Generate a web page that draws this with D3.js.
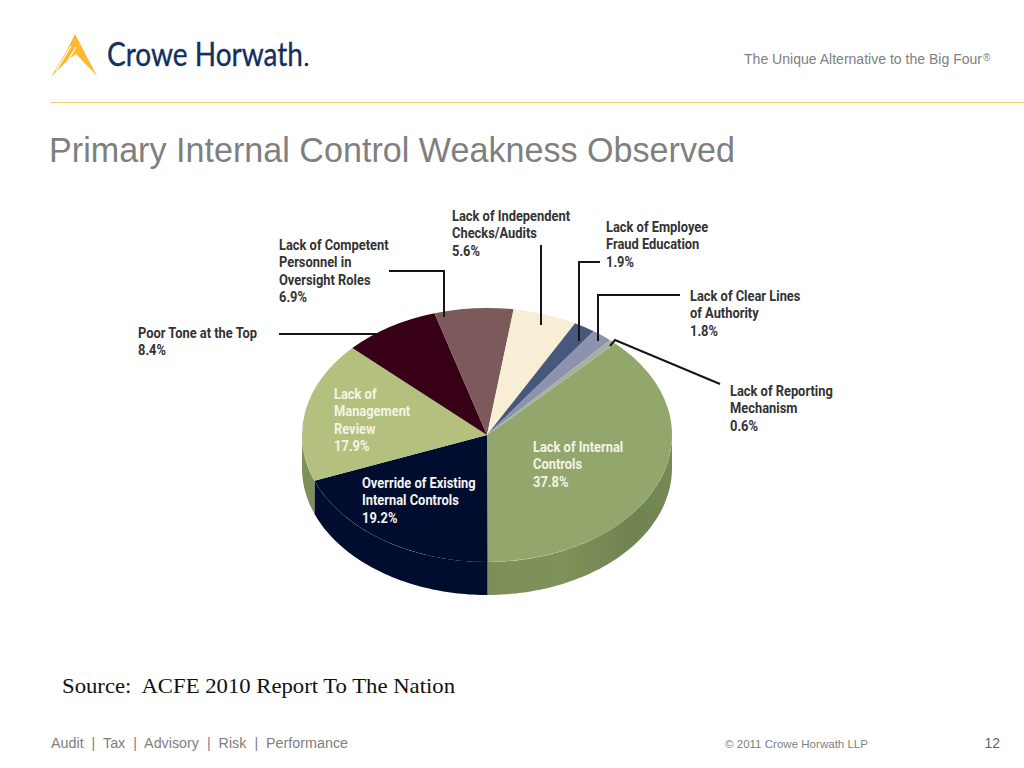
<!DOCTYPE html>
<html><head><meta charset="utf-8">
<script src="https://cdnjs.cloudflare.com/ajax/libs/d3/7.8.5/d3.min.js"></script>
<style>html,body{margin:0;padding:0;background:#fff}svg{display:block}</style>
</head><body><svg id="c" width="1024" height="768"></svg>
<script>
const categories = ["Lack of Internal Controls","Override of Existing Internal Controls","Lack of Management Review","Poor Tone at the Top","Lack of Competent Personnel in Oversight Roles","Lack of Independent Checks/Audits","Lack of Employee Fraud Education","Lack of Clear Lines of Authority","Lack of Reporting Mechanism"];
const values = [37.8,19.2,17.9,8.4,6.9,5.6,1.9,1.8,0.6];
const colors = ["#93a66c","#000c2e","#b4c07e","#370016","#7c5a5c","#f7eed5","#47587c","#8c93ad","#a8b09c"];
const wallColors = ["url(#wall)","#000c2e","#7f8f5a","#000","#000","#000","#000","#000","#000"];
const labelLines = [
 ["Lack of Internal","Controls","37.8%"],
 ["Override of Existing","Internal Controls","19.2%"],
 ["Lack of","Management","Review","17.9%"],
 ["Poor Tone at the Top","8.4%"],
 ["Lack of Competent","Personnel in","Oversight Roles","6.9%"],
 ["Lack of Independent","Checks/Audits","5.6%"],
 ["Lack of Employee","Fraud Education","1.9%"],
 ["Lack of Clear Lines","of Authority","1.8%"],
 ["Lack of Reporting","Mechanism","0.6%"]];
const labelPos = [[533,452],[362,488],[334,399],[138,338],[279,250],[452,221],[606,232],[690,301],[730,396]];
const labelFill = ["#f4f4e6","#f4f4f4","#f4f4e6","#333","#333","#333","#333","#333","#333"];
const leaders = [null,null,null,
 [[279,334],[378,334]],
 [[389,271],[444,271],[444,317]],
 [[541,245],[541,325]],
 [[600,262],[579,262],[579,341]],
 [[680,295],[598,295],[598,341]],
 [[720,384],[615,340],[610,346]]];

const svg = d3.select("#c");
const cx=487, cy=435, rx=185, ry=127, depth=33;
const defs = svg.append("defs");
const g = defs.append("linearGradient").attr("id","wall").attr("x1","0").attr("x2","1").attr("y1","0").attr("y2","0");
[[0,"#7c8f58"],[.4,"#7f9259"],[.8,"#6f8350"],[1,"#768a56"]].forEach(s=>g.append("stop").attr("offset",s[0]).attr("stop-color",s[1]));
const soft = defs.append("filter").attr("id","soft").attr("x","-5%").attr("y","-5%").attr("width","110%").attr("height","110%");
soft.append("feGaussianBlur").attr("stdDeviation",0.45);

// header
const sans = "'Liberation Sans',Arial,sans-serif";
svg.append("path").attr("fill","#fdb92e").attr("d","M75,34 L97,76 L76,54 L68,60 L51,77 L66,52 Z");
[[71,46,56,71],[76,47,63,69]].forEach(s=>svg.append("line").attr("x1",s[0]).attr("y1",s[1]).attr("x2",s[2]).attr("y2",s[3]).attr("stroke","#fff").attr("stroke-width",1.2));
svg.append("text").text("Crowe Horwath").attr("x",107).attr("y",66).attr("font-family","Lato,sans-serif").attr("font-size",33).attr("fill","#12305f").attr("stroke","#12305f").attr("stroke-width",0.35).attr("textLength",196).attr("lengthAdjust","spacingAndGlyphs");
svg.append("circle").attr("cx",306.5).attr("cy",64.5).attr("r",1.8).attr("fill","#12305f");
svg.append("text").text("The Unique Alternative to the Big Four").attr("x",744).attr("y",64).attr("font-family",sans).attr("font-size",14).attr("fill","#808080").attr("textLength",238).attr("lengthAdjust","spacingAndGlyphs");
svg.append("text").text("®").attr("x",983).attr("y",61).attr("font-family",sans).attr("font-size",10).attr("fill","#808080");
svg.append("line").attr("x1",51).attr("x2",1024).attr("y1",102.5).attr("y2",102.5).attr("stroke","#efcf6e").attr("stroke-width",1.2);
svg.append("text").text("Primary Internal Control Weakness Observed").attr("x",49).attr("y",162).attr("font-family",sans).attr("font-size",35).attr("fill","#7f7f7f").attr("textLength",686).attr("lengthAdjust","spacingAndGlyphs");

// pie
const a0 = 43.9*Math.PI/180;
const arcs = d3.pie().sort(null).startAngle(a0).endAngle(a0+2*Math.PI)(values);
const chart = svg.append("g").attr("filter","url(#soft)");
const px = d3.scaleLinear().domain([-1,1]).range([cx-rx,cx+rx]);
const py = d3.scaleLinear().domain([-1,1]).range([cy-ry,cy+ry]);
// side wall: front half only (angles measured clockwise from the top)
const front = [Math.PI/2, 3*Math.PI/2];
const wall = d3.area().x(a=>px(Math.sin(a))).y0(a=>py(-Math.cos(a))).y1(a=>py(-Math.cos(a))+depth);
arcs.forEach((d,i)=>{
  const s=Math.max(d.startAngle,front[0]), e=Math.min(d.endAngle,front[1]);
  if(e<=s) return;
  chart.append("path").attr("d",wall(d3.range(0,61).map(k=>s+(e-s)*k/60))).attr("fill",wallColors[i]);
});
const arc = d3.arc().innerRadius(0).outerRadius(1);
const face = chart.append("g").attr("transform",`translate(${cx},${cy}) scale(${rx},${ry})`);
face.selectAll("path").data(arcs).join("path").attr("d",arc).attr("fill",(d,i)=>colors[i]);

// leaders
const line = d3.line();
leaders.forEach(l=>{ if(l) chart.append("path").attr("d",line(l)).attr("fill","none").attr("stroke","#151515").attr("stroke-width",2); });

// labels (condensed by a horizontal scale)
labelLines.forEach((ls,i)=>{
  ls.forEach((s,j)=>svg.append("text").text(s)
    .attr("transform",`translate(${labelPos[i][0]},${labelPos[i][1]+j*17.4}) scale(0.888,1)`)
    .attr("font-family","Roboto,sans-serif").attr("font-weight",700).attr("font-size",14.5).attr("fill",labelFill[i]));
});

// footer
svg.append("text").text("Source:  ACFE 2010 Report To The Nation").attr("x",62).attr("y",693).attr("xml:space","preserve").attr("font-family","'Liberation Serif',serif").attr("font-size",21.5).attr("fill","#111").attr("textLength",393).attr("lengthAdjust","spacingAndGlyphs");
svg.append("text").text("Audit  |  Tax  |  Advisory  |  Risk  |  Performance").attr("x",51).attr("y",748).attr("xml:space","preserve").attr("font-family",sans).attr("font-size",14).attr("fill","#808080").attr("textLength",297).attr("lengthAdjust","spacingAndGlyphs");
svg.append("text").text("© 2011 Crowe Horwath LLP").attr("x",725).attr("y",748).attr("font-family",sans).attr("font-size",11).attr("fill","#808080").attr("textLength",143).attr("lengthAdjust","spacingAndGlyphs");
svg.append("text").text("12").attr("x",1000).attr("y",748).attr("text-anchor","end").attr("font-family",sans).attr("font-size",14).attr("fill","#666");
</script></body></html>
